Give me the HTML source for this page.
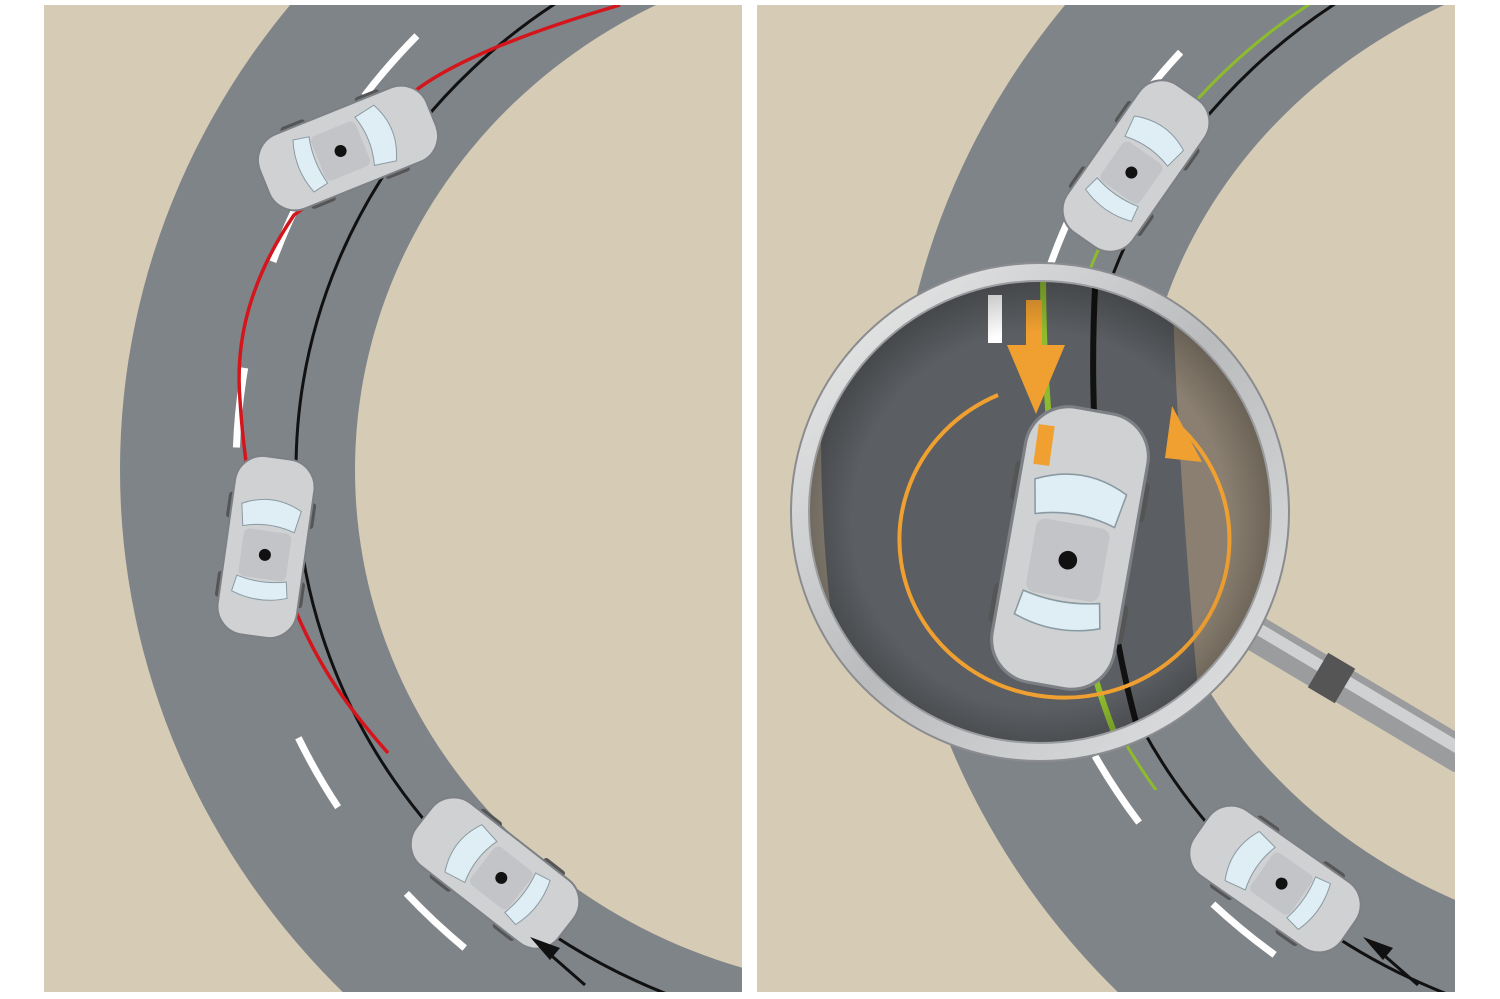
<!DOCTYPE html>
<html><head><meta charset="utf-8"><style>html,body{margin:0;padding:0;background:#fff;overflow:hidden;width:1500px;height:999px}svg{display:block}</style></head>
<body>
<svg width="1500" height="999" viewBox="0 0 1500 999" xmlns="http://www.w3.org/2000/svg">
<defs>
<clipPath id="cl"><rect x="44" y="5" width="698" height="987"/></clipPath>
<clipPath id="cr"><rect x="757" y="5" width="698" height="987"/></clipPath>
<clipPath id="mag"><circle cx="1040" cy="512" r="232"/></clipPath>
<clipPath id="gtop"><rect x="757" y="0" width="700" height="790"/></clipPath>
<radialGradient id="lens" cx="0.5" cy="0.5" r="0.5">
<stop offset="0.75" stop-color="#000" stop-opacity="0"/><stop offset="1" stop-color="#000" stop-opacity="0.3"/></radialGradient>
<linearGradient id="rim" x1="0" y1="0" x2="1" y2="1">
<stop offset="0" stop-color="#eeeeee"/><stop offset="0.5" stop-color="#b9bbbd"/><stop offset="1" stop-color="#e4e5e6"/></linearGradient>
<g id="car">
<rect x="-6" y="-50" width="12" height="26" rx="3" fill="#555" transform="translate(-38,0)"/>
<rect x="-6" y="-50" width="12" height="26" rx="3" fill="#555" transform="translate(38,0)"/>
<rect x="-6" y="30" width="12" height="26" rx="3" fill="#555" transform="translate(-38,0)"/>
<rect x="-6" y="30" width="12" height="26" rx="3" fill="#555" transform="translate(38,0)"/>
<rect x="-40" y="-90" width="80" height="180" rx="28" fill="#cfd1d3" stroke="#7d8085" stroke-width="2"/>
<path d="M-30,-40 Q0,-55 30,-40 L26,-18 Q0,-26 -26,-18Z" fill="#dfeef4" stroke="#8a9aa2"/>
<path d="M-28,48 Q0,58 28,48 L25,32 Q0,38 -25,32Z" fill="#dfeef4" stroke="#8a9aa2"/>
<rect x="-24" y="-16" width="48" height="48" rx="6" fill="#c2c4c7"/>
<circle cx="0" cy="8" r="6" fill="#111"/>
</g>
</defs>

<!-- LEFT PANEL -->
<g clip-path="url(#cl)">
<rect x="44" y="5" width="698" height="987" fill="#d6cbb5"/>
<path fill-rule="evenodd" fill="#7f8489" d="M120,470 A780,746 0 1 1 1680,470 A780,746 0 1 1 120,470Z M355,470 A545,520 0 1 1 1445,470 A545,520 0 1 1 355,470Z"/>
<ellipse cx="900" cy="470" rx="664" ry="633" fill="none" stroke="#fff" stroke-width="7" stroke-dasharray="80,110" stroke-dashoffset="30"/>
<ellipse cx="900" cy="470" rx="604" ry="568" fill="none" stroke="#111" stroke-width="3"/>
<path d="M620,5 C500,40 440,70 410,95 C370,150 330,190 294,215 C250,280 235,340 240,400 C245,480 260,560 294,607 C320,670 350,710 388,753" fill="none" stroke="#d4161c" stroke-width="3.5"/>
<use href="#car" transform="translate(348,148) rotate(68)"/>
<use href="#car" transform="translate(266,547) rotate(8)"/>
<use href="#car" transform="translate(495,873) rotate(-52)"/>
<path d="M585,985 L545,950" stroke="#111" stroke-width="3"/>
<path d="M530,937 L560,948 L550,960Z" fill="#111"/>
</g>

<!-- RIGHT PANEL -->
<g clip-path="url(#cr)">
<rect x="757" y="5" width="698" height="987" fill="#d6cbb5"/>
<path fill-rule="evenodd" fill="#7f8489" d="M895,470 A780,746 0 1 1 2455,470 A780,746 0 1 1 895,470Z M1140,450 A560,500 0 1 1 2260,450 A560,500 0 1 1 1140,450Z"/>
<ellipse cx="1688" cy="462" rx="672" ry="625" fill="none" stroke="#fff" stroke-width="7" stroke-dasharray="80,110" stroke-dashoffset="60"/>
<ellipse cx="1680" cy="470" rx="604" ry="568" fill="none" stroke="#111" stroke-width="3"/>
<ellipse cx="1655" cy="470" rx="604" ry="568" fill="none" stroke="#8dbb2e" stroke-width="3" clip-path="url(#gtop)"/>
<use href="#car" transform="translate(1136,166) rotate(35)"/>
<use href="#car" transform="translate(1275,879) rotate(-55)"/>
<path d="M1418,985 L1378,950" stroke="#111" stroke-width="3"/>
<path d="M1363,937 L1393,948 L1383,960Z" fill="#111"/>
<!-- magnifier handle -->
<line x1="1250" y1="630" x2="1460" y2="755" stroke="#9a9c9e" stroke-width="36" stroke-linecap="round"/>
<line x1="1250" y1="624" x2="1460" y2="749" stroke="#d0d1d2" stroke-width="12" stroke-linecap="round"/>
<line x1="1318" y1="670" x2="1345" y2="686" stroke="#555" stroke-width="40"/>
<g clip-path="url(#mag)">
<rect x="790" y="270" width="500" height="500" fill="#5b5e62"/>
<path d="M790,270 L830,270 C815,400 815,600 860,770 L790,770Z" fill="#8d8578"/>
<path d="M1172,270 C1175,400 1185,550 1205,770 L1300,770 L1300,270Z" fill="#8a7f70"/>
<path d="M1096,270 C1088,400 1095,600 1150,770" fill="none" stroke="#111" stroke-width="6"/>
<path d="M1043,270 C1043,380 1052,600 1130,770" fill="none" stroke="#8dbb2e" stroke-width="6"/>
<rect x="988" y="295" width="14" height="48" fill="#fff"/>
<use href="#car" transform="translate(1070,548) rotate(10) scale(1.55)"/>
<path d="M998,395 A165,158 0 1 0 1178,425" fill="none" stroke="#f0a030" stroke-width="4"/>
<path d="M1172,406 L1202,462 L1165,458Z" fill="#f0a030"/>
<rect x="1026" y="300" width="16" height="50" fill="#f0a030"/>
<path d="M1007,345 L1065,345 L1036,414Z" fill="#f0a030"/>
<rect x="1036" y="425" width="16" height="40" fill="#f0a030" transform="rotate(8 1044 445)"/>
<rect x="790" y="270" width="500" height="500" fill="url(#lens)"/>
</g>
<circle cx="1040" cy="512" r="240" fill="none" stroke="url(#rim)" stroke-width="18"/>
<circle cx="1040" cy="512" r="249" fill="none" stroke="#8a8c8f" stroke-width="2"/>
<circle cx="1040" cy="512" r="231" fill="none" stroke="#9a9c9f" stroke-width="2"/>
</g>
</svg>
</body></html>
